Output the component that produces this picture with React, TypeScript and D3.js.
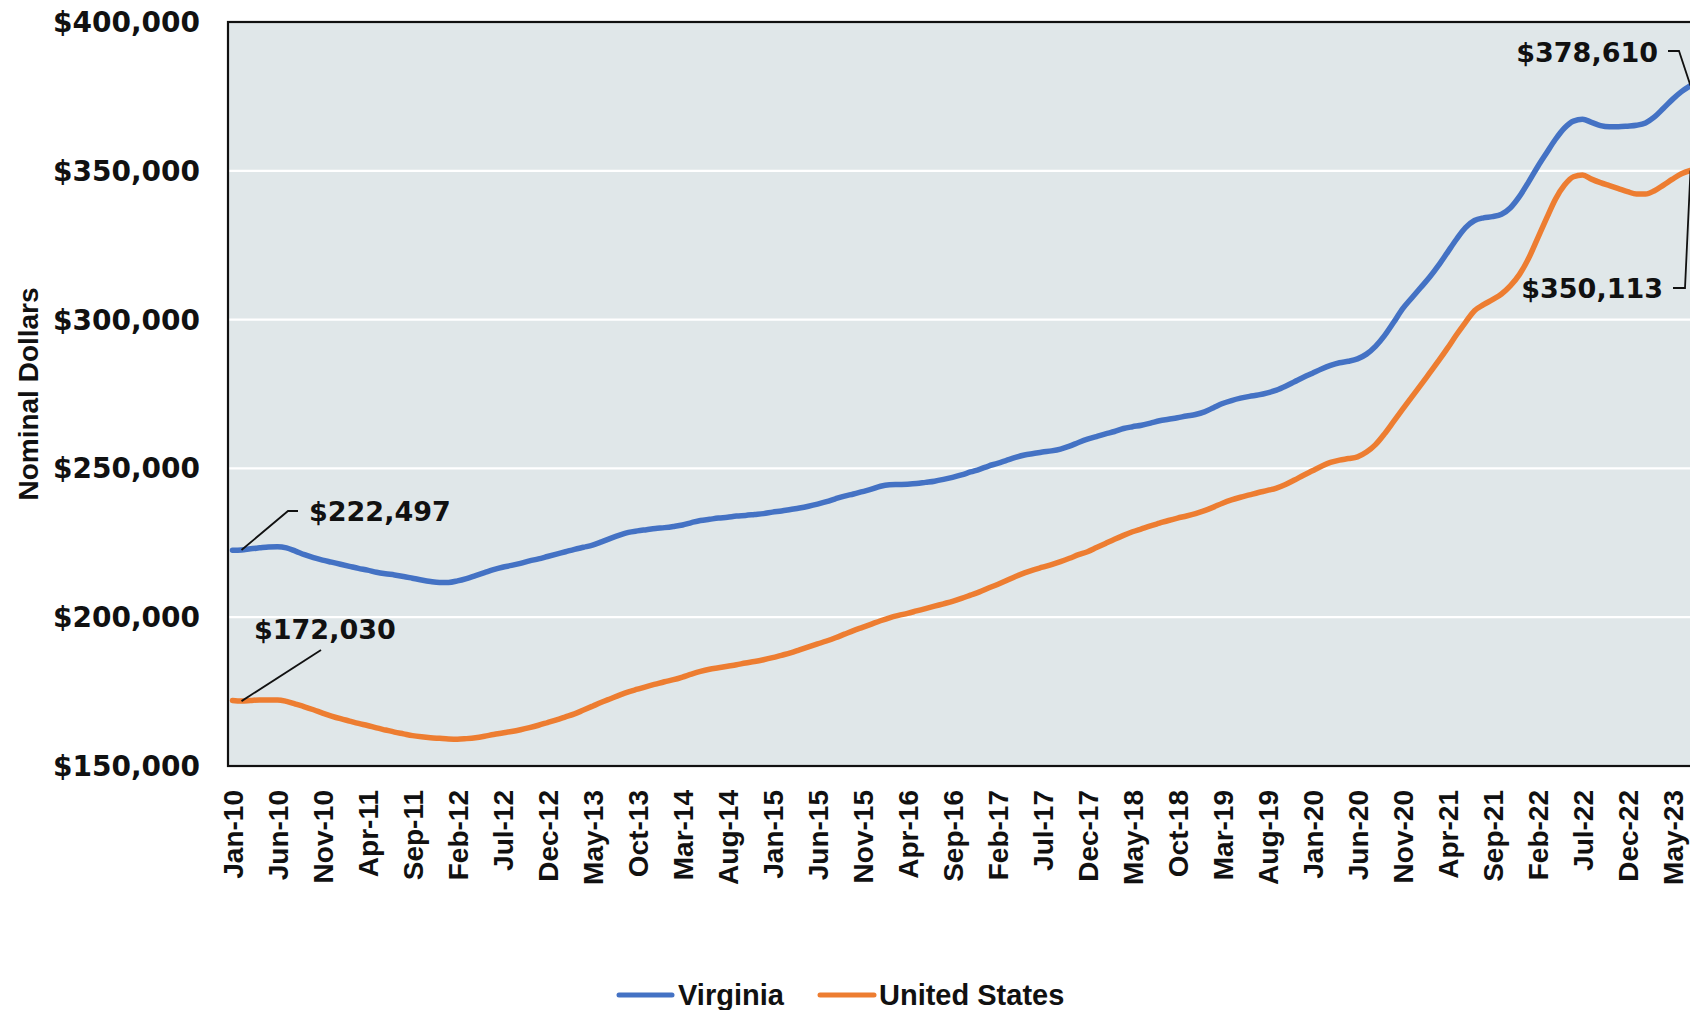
import * as d3 from "d3";

// monthly median values, Jan-10 .. Jul-23
const months = d3.timeMonths(new Date(2010, 0, 1), new Date(2023, 7, 1));
const monthLabel = d3.timeFormat("%b-%y");

const virginia = [
  222497, 222600, 223000, 223300, 223600, 223700, 223300, 222200, 221000, 220000,
  219200, 218500, 217800, 217100, 216400, 215800, 215100, 214600, 214200, 213700,
  213100, 212500, 212000, 211700, 211700, 212200, 213000, 214000, 215000, 216000,
  216800, 217400, 218100, 218900, 219600, 220400, 221200, 222000, 222800, 223500,
  224200, 225300, 226500, 227600, 228500, 229000, 229400, 229800, 230100, 230500,
  231000, 231800, 232500, 232900, 233300, 233600, 234000, 234200, 234500, 234800,
  235300, 235700, 236200, 236700, 237300, 238000, 238800, 239800, 240700, 241400,
  242200, 243000, 244000, 244500, 244600, 244700, 244900, 245300, 245700, 246300,
  247000, 247800, 248800, 249700, 250800, 251700, 252700, 253700, 254500, 255000,
  255500, 255900, 256500, 257500, 258700, 259800, 260700, 261600, 262400, 263400,
  264000, 264500, 265200, 266000, 266500, 267000, 267600, 268100, 269000, 270400,
  271800, 272800, 273600, 274200, 274700, 275400, 276300, 277600, 279100, 280600,
  282000, 283400, 284600, 285500, 286000, 286800, 288400, 291000, 294600, 299000,
  303600, 307200, 310700, 314200, 318200, 322600, 327000, 330900, 333300, 334200,
  334600, 335400, 337600, 341400, 346200, 351300, 356000, 360600, 364400, 366700,
  367300, 366300, 365200, 364800, 364800, 365000, 365300, 366100, 368100, 371000,
  374000, 376600, 378610,
];

const unitedStates = [
  172030, 171800, 172000, 172200, 172200, 172200, 171700, 170800, 169900, 168900,
  167800, 166800, 165900, 165100, 164300, 163600, 162800, 162100, 161400, 160800,
  160200, 159800, 159500, 159300, 159100, 159000, 159200, 159500, 160000, 160600,
  161100, 161600, 162200, 162900, 163700, 164600, 165500, 166500, 167500, 168800,
  170100, 171400, 172600, 173800, 174900, 175800, 176700, 177500, 178300, 179000,
  179900, 180900, 181800, 182500, 183000, 183500, 184000, 184600, 185100, 185700,
  186400, 187200, 188000, 189000, 190000, 191000, 192000, 193100, 194300, 195500,
  196600, 197700, 198800, 199800, 200600, 201300, 202100, 202900, 203700, 204500,
  205300, 206300, 207400, 208500, 209800, 211000, 212300, 213700, 214900, 215900,
  216800, 217700, 218700, 219800, 221000, 222000, 223400, 224800, 226200, 227500,
  228700, 229700, 230700, 231600, 232500, 233300, 234000, 234800, 235800, 237000,
  238300, 239400, 240300, 241100, 241900, 242600, 243400, 244600, 246100, 247700,
  249200, 250700, 252000, 252800, 253300, 253900, 255500, 258000, 261600, 265700,
  269800, 273900, 277900, 282000, 286100, 290400, 294900, 299100, 303000, 305000,
  306700, 308600, 311400, 315200, 320500, 327200, 334000, 340500, 345200, 348000,
  348600, 347200, 346000, 345000, 344000, 343000, 342200, 342200, 343300, 345200,
  347200, 349000, 350113,
];

const yTicks = [150000, 200000, 250000, 300000, 350000, 400000];
const series = [
  { name: "Virginia", values: virginia, color: "#4472C4" },
  { name: "United States", values: unitedStates, color: "#ED7D31" },
];

const W = 1690;
const H = 1010;
const left = 228;
const top = 22;
const bottom = 766;
const step = 9;
const right = left + step * months.length; // runs just past the frame

const numFont = "'DejaVu Sans', sans-serif";
const textFont = "'Liberation Sans', Arial, sans-serif";

export default function App() {
  const x = d3
    .scaleBand<number>()
    .domain(d3.range(months.length))
    .range([left, right]);
  const cx = (i: number) => (x(i) as number) + x.bandwidth() / 2;
  const y = d3.scaleLinear().domain([150000, 400000]).range([bottom, top]);
  const fmt = (v: number) => "$" + d3.format(",")(v);

  const line = d3
    .line<number>()
    .x((_, i) => cx(i))
    .y((d) => y(d))
    .curve(d3.curveMonotoneX);

  const last = months.length - 1;
  const tickIdx = d3.range(0, months.length, 5);

  return (
    <div style={{ position: "absolute", left: 0, top: 0 }}>
      <svg width={W} height={H} style={{ display: "block" }}>
        <rect x={0} y={0} width={W} height={H} fill="#fff" />
        <rect x={left} y={top} width={right - left} height={bottom - top} fill="#E0E7E9" />
        {yTicks.slice(1, -1).map((t) => (
          <line key={t} x1={left} x2={right} y1={y(t)} y2={y(t)} stroke="#fff" strokeWidth={2.2} />
        ))}
        {series.map((s) => (
          <path
            key={s.name}
            d={line(s.values) || ""}
            fill="none"
            stroke={s.color}
            strokeWidth={5.5}
            strokeLinecap="round"
            strokeLinejoin="round"
          />
        ))}
        <rect x={left} y={top} width={right - left} height={bottom - top} fill="none" stroke="#111" strokeWidth={2.2} />

        {yTicks.map((t) => (
          <text
            key={t}
            x={200}
            y={y(t)}
            dy="0.36em"
            textAnchor="end"
            fontFamily={numFont}
            fontWeight="bold"
            fontSize={28}
            fill="#111"
          >
            {fmt(t)}
          </text>
        ))}

        {tickIdx.map((i) => (
          <text
            key={i}
            transform={`translate(${cx(i)},790) rotate(-90)`}
            dy="0.36em"
            textAnchor="end"
            fontFamily={textFont}
            fontWeight="bold"
            fontSize={28}
            fill="#111"
          >
            {monthLabel(months[i])}
          </text>
        ))}

        <text
          transform={`translate(28,${(top + bottom) / 2}) rotate(-90)`}
          dy="0.36em"
          textAnchor="middle"
          fontFamily={textFont}
          fontWeight="bold"
          fontSize={28}
          fill="#111"
        >
          Nominal Dollars
        </text>

        {/* callouts */}
        <g stroke="#111" strokeWidth={1.8} fill="none">
          <polyline points={`${cx(1)},${y(virginia[1])} 288,511 298,511`} />
          <polyline points={`${cx(1)},${y(unitedStates[1])} 321,650`} />
          <polyline points={`1668,51 1679,51 ${cx(last)},${y(virginia[last])}`} />
          <polyline points={`1673,288 1685,288 ${cx(last)},${y(unitedStates[last])}`} />
        </g>
        <g fontFamily={numFont} fontWeight="bold" fontSize={27} fill="#111">
          <text x={309} y={511} dy="0.36em">{fmt(virginia[0])}</text>
          <text x={254} y={629} dy="0.36em">{fmt(unitedStates[0])}</text>
          <text x={1658} y={52} dy="0.36em" textAnchor="end">{fmt(virginia[last])}</text>
          <text x={1663} y={288} dy="0.36em" textAnchor="end">{fmt(unitedStates[last])}</text>
        </g>

        {/* legend */}
        <g fontFamily={textFont} fontWeight="bold" fontSize={29} fill="#111">
          <line x1={619} x2={672} y1={995} y2={995} stroke={series[0].color} strokeWidth={5} strokeLinecap="round" />
          <text x={678} y={995} dy="0.36em">{series[0].name}</text>
          <line x1={820} x2={874} y1={995} y2={995} stroke={series[1].color} strokeWidth={5} strokeLinecap="round" />
          <text x={879} y={995} dy="0.36em">{series[1].name}</text>
        </g>
      </svg>
    </div>
  );
}
